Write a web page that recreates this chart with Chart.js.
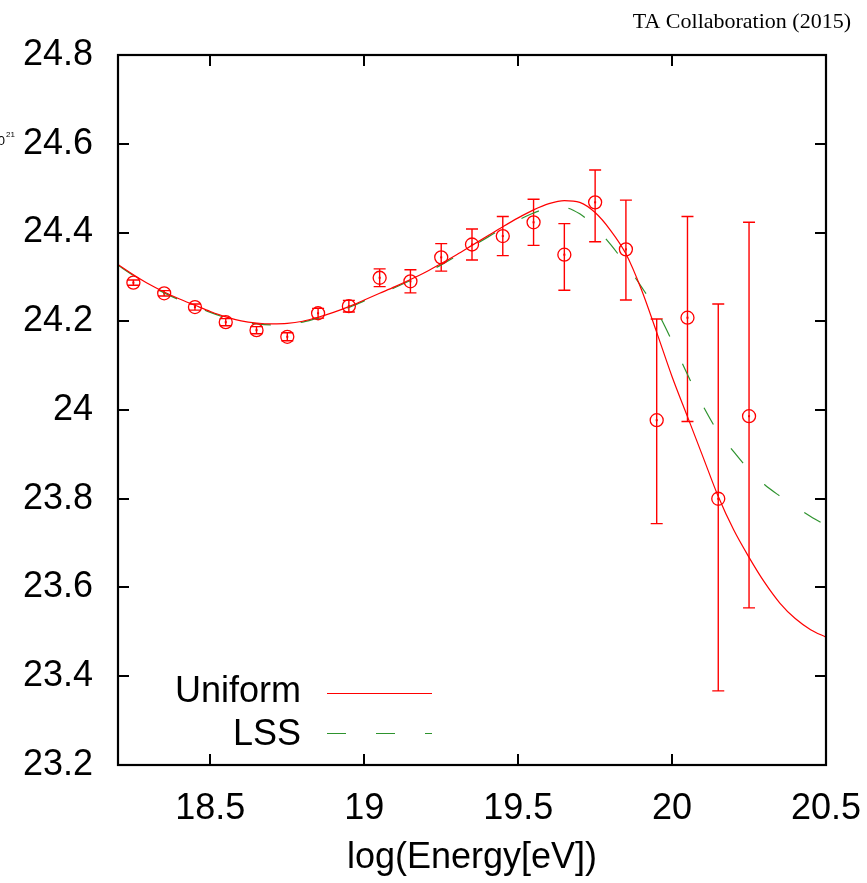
<!DOCTYPE html>
<html>
<head>
<meta charset="utf-8">
<script src="https://cdn.jsdelivr.net/npm/chart.js@4.4.1/dist/chart.umd.min.js"></script>
<style>
  html, body { margin: 0; padding: 0; background: #fff; }
</style>
</head>
<body>
<canvas id="specChart" width="867" height="883"></canvas>
<script>
// measured points (log E, scaled flux) with asymmetric errors
const energy = [18.25, 18.35, 18.45, 18.55, 18.65, 18.75, 18.85, 18.95, 19.05, 19.15, 19.25,
                19.35, 19.45, 19.55, 19.65, 19.75, 19.85, 19.95, 20.05, 20.15, 20.25];
const flux = [24.287, 24.263, 24.232, 24.198, 24.180, 24.165, 24.218, 24.234, 24.298, 24.290, 24.344,
              24.373, 24.392, 24.423, 24.350, 24.468, 24.362, 23.977, 24.208, 23.800, 23.986];
const errUp = [0.006, 0.006, 0.007, 0.008, 0.008, 0.009, 0.011, 0.013, 0.020, 0.026, 0.031,
               0.035, 0.044, 0.052, 0.070, 0.073, 0.111, 0.228, 0.228, 0.439, 0.437];
const errDown = [0.006, 0.006, 0.007, 0.008, 0.008, 0.009, 0.011, 0.013, 0.020, 0.026, 0.031,
                 0.035, 0.044, 0.052, 0.080, 0.089, 0.114, 0.233, 0.234, 0.433, 0.432];

// model curves
const curveE = [18.20, 18.25, 18.30, 18.35, 18.40, 18.45, 18.50, 18.55, 18.60, 18.65, 18.70, 18.75,
                18.80, 18.85, 18.90, 18.95, 19.00, 19.05, 19.10, 19.15, 19.20, 19.25, 19.30, 19.35,
                19.40, 19.45, 19.50, 19.55, 19.60, 19.65, 19.70, 19.75, 19.80, 19.85, 19.90, 19.95,
                20.00, 20.05, 20.10, 20.15, 20.20, 20.25, 20.30, 20.35, 20.40, 20.45, 20.50];
const uniform = [24.328, 24.305, 24.284, 24.266, 24.250, 24.236, 24.222, 24.210, 24.201, 24.196, 24.194, 24.195,
                 24.200, 24.209, 24.220, 24.233, 24.248, 24.263, 24.278, 24.294, 24.311, 24.330, 24.350, 24.371,
                 24.392, 24.413, 24.433, 24.451, 24.465, 24.472, 24.468, 24.445, 24.405, 24.352, 24.272, 24.175,
                 24.075, 23.985, 23.895, 23.805, 23.730, 23.668, 23.612, 23.565, 23.530, 23.505, 23.488];
const lss = [24.326, 24.303, 24.282, 24.264, 24.248, 24.234, 24.220, 24.208, 24.199, 24.194, 24.192, 24.193,
             24.198, 24.207, 24.218, 24.231, 24.246, 24.261, 24.276, 24.292, 24.309, 24.327, 24.347, 24.368,
             24.389, 24.410, 24.428, 24.444, 24.455, 24.456, 24.442, 24.413, 24.373, 24.328, 24.278, 24.224,
             24.155, 24.080, 24.010, 23.950, 23.906, 23.865, 23.832, 23.806, 23.782, 23.760, 23.740];

const xTicks = [18.5, 19, 19.5, 20, 20.5];
const yTicks = [23.2, 23.4, 23.6, 23.8, 24, 24.2, 24.4, 24.6, 24.8];

const RED = '#ff0000';
const GREEN = '#2e932e';
const FONT = "'Liberation Sans', Arial, sans-serif";

function toXY(xs, ys) {
    return xs.map(function (x, i) { return { x: x, y: ys[i] }; });
}

const gnuplotLook = {
    id: 'gnuplotLook',
    beforeDatasetsDraw(chart) {
        const ctx = chart.ctx;
        const xs = chart.scales.x, ys = chart.scales.y;
        ctx.save();
        ctx.strokeStyle = RED;
        ctx.fillStyle = RED;
        ctx.lineWidth = 1.4;
        energy.forEach(function (e, i) {
            const px = xs.getPixelForValue(e);
            const yt = ys.getPixelForValue(flux[i] + errUp[i]);
            const yb = ys.getPixelForValue(flux[i] - errDown[i]);
            ctx.beginPath();
            ctx.moveTo(px, yt); ctx.lineTo(px, yb);
            ctx.moveTo(px - 6, yt); ctx.lineTo(px + 6, yt);
            ctx.moveTo(px - 6, yb); ctx.lineTo(px + 6, yb);
            ctx.stroke();
            const pc = ys.getPixelForValue(flux[i]);
            ctx.fillRect(px - 1, pc - 1, 2, 2);
        });
        ctx.restore();
    },
    afterDraw(chart) {
        const ctx = chart.ctx;
        const a = chart.chartArea;
        const xs = chart.scales.x, ys = chart.scales.y;
        ctx.save();
        // inward ticks on all four sides
        ctx.strokeStyle = '#000';
        ctx.lineWidth = 2;
        ctx.beginPath();
        xTicks.forEach(function (v) {
            const px = Math.round(xs.getPixelForValue(v));
            ctx.moveTo(px, a.bottom); ctx.lineTo(px, a.bottom - 11);
            ctx.moveTo(px, a.top); ctx.lineTo(px, a.top + 11);
        });
        yTicks.forEach(function (v) {
            const py = Math.round(ys.getPixelForValue(v));
            ctx.moveTo(a.left, py); ctx.lineTo(a.left + 11, py);
            ctx.moveTo(a.right, py); ctx.lineTo(a.right - 11, py);
        });
        ctx.stroke();
        // frame
        ctx.lineWidth = 2.2;
        ctx.strokeRect(a.left, a.top, a.right - a.left, a.bottom - a.top);

        // legend
        ctx.fillStyle = '#000';
        ctx.font = '36px ' + FONT;
        ctx.textAlign = 'right';
        ctx.textBaseline = 'middle';
        ctx.fillText('Uniform', 301, 692);
        ctx.fillText('LSS', 301, 735);
        ctx.lineWidth = 1.2;
        ctx.strokeStyle = RED;
        ctx.beginPath(); ctx.moveTo(327, 693.5); ctx.lineTo(432, 693.5); ctx.stroke();
        ctx.strokeStyle = GREEN;
        ctx.setLineDash([19, 30]);
        ctx.beginPath(); ctx.moveTo(327, 733.5); ctx.lineTo(432, 733.5); ctx.stroke();
        ctx.setLineDash([]);

        // axis title
        ctx.textAlign = 'center';
        ctx.fillText('log(Energy[eV])', (a.left + a.right) / 2, 858);

        // credit
        ctx.font = '22px "Liberation Serif", "Times New Roman", serif';
        ctx.textAlign = 'right';
        ctx.fillText('TA Collaboration (2015)', 851, 22);

        // clipped remainder of the y-axis title
        ctx.textAlign = 'right';
        ctx.font = '13px ' + FONT;
        ctx.fillText('10', 5, 141);
        ctx.font = '8px ' + FONT;
        ctx.fillText('21', 15, 135);
        ctx.restore();
    }
};

const ctx = document.getElementById('specChart').getContext('2d');
const specChart = new Chart(ctx, {
    type: 'scatter',
    data: {
        datasets: [{
            label: 'Data',
            data: toXY(energy, flux),
            showLine: false,
            pointStyle: 'circle',
            pointRadius: 6.5,
            pointBorderWidth: 1.3,
            pointBorderColor: RED,
            pointBackgroundColor: 'rgba(0,0,0,0)',
            order: 0
        }, {
            label: 'Uniform',
            data: toXY(curveE, uniform),
            showLine: true,
            borderColor: RED,
            borderWidth: 1.2,
            pointRadius: 0,
            cubicInterpolationMode: 'monotone',
            order: 1
        }, {
            label: 'LSS',
            data: toXY(curveE, lss),
            showLine: true,
            borderColor: GREEN,
            borderWidth: 1.2,
            borderDash: [19, 30],
            pointRadius: 0,
            cubicInterpolationMode: 'monotone',
            order: 2
        }]
    },
    options: {
        responsive: false,
        devicePixelRatio: 1,
        animation: false,
        layout: { padding: { top: 55, right: 41, left: 0, bottom: 0 } },
        plugins: {
            legend: { display: false },
            tooltip: { enabled: false }
        },
        scales: {
            x: {
                type: 'linear',
                min: 18.2,
                max: 20.5,
                grid: { display: false, drawTicks: false },
                border: { display: false },
                afterBuildTicks: function (scale) {
                    scale.ticks = xTicks.map(function (v) { return { value: v }; });
                },
                afterFit: function (scale) {
                    scale.height = 118;
                    scale.paddingLeft = 0;
                    scale.paddingRight = 0;
                },
                ticks: {
                    padding: 22,
                    maxRotation: 0,
                    color: '#000',
                    font: { size: 36, family: FONT },
                    callback: function (v) { return String(Number(v.toFixed(1))); }
                }
            },
            y: {
                type: 'linear',
                min: 23.2,
                max: 24.8,
                grid: { display: false, drawTicks: false },
                border: { display: false },
                afterBuildTicks: function (scale) {
                    scale.ticks = yTicks.map(function (v) { return { value: v }; });
                },
                afterFit: function (scale) {
                    scale.width = 118;
                    scale.paddingTop = 0;
                    scale.paddingBottom = 0;
                },
                ticks: {
                    padding: 25,
                    color: '#000',
                    font: { size: 36, family: FONT },
                    callback: function (v) { return String(Number(v.toFixed(1))); }
                }
            }
        }
    },
    plugins: [gnuplotLook]
});
</script>
</body>
</html>
